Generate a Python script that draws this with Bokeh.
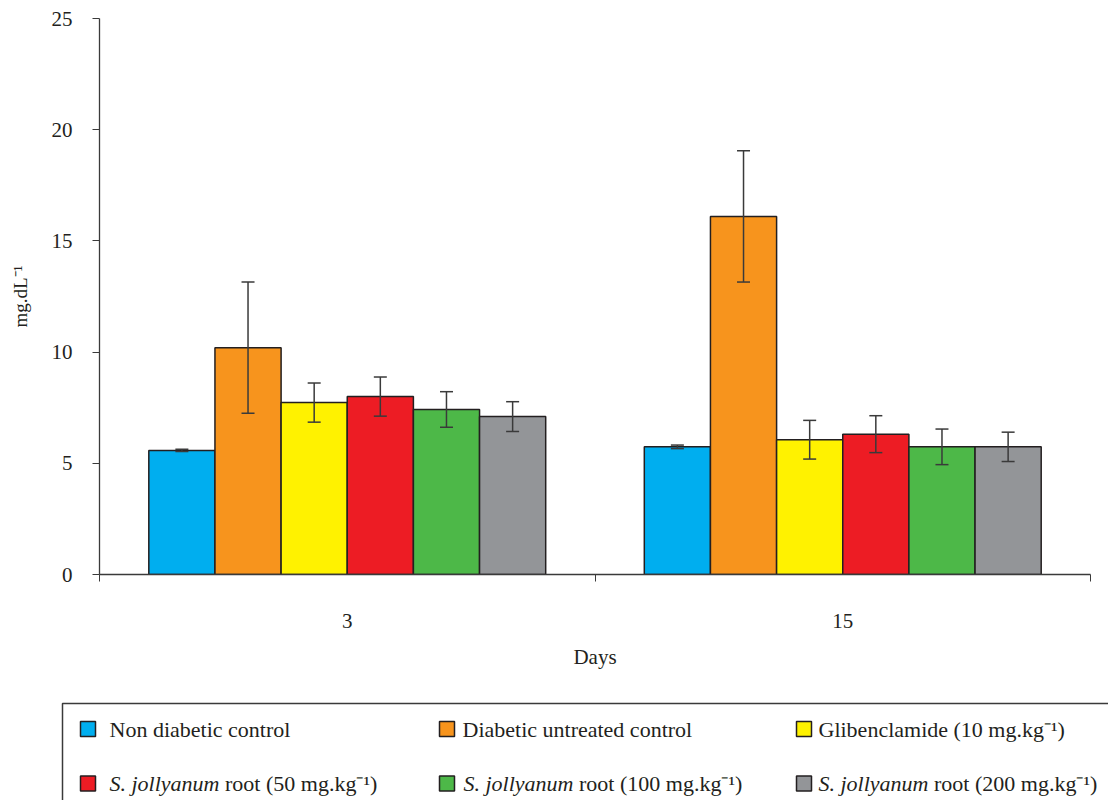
from bokeh.plotting import figure
from bokeh.models import (ColumnDataSource, Range1d, FixedTicker, LinearAxis,
                          Whisker, TeeHead)
from bokeh.transform import dodge
from bokeh.core.properties import value
from bokeh.embed import file_html
from bokeh.resources import INLINE

# ---- data ----
days = ["3", "15"]
groups = ["Non diabetic control", "Diabetic untreated control", "Glibenclamide (10 mg.kg\u207b\u00b9)",
          "S. jollyanum root (50 mg.kg\u207b\u00b9)", "S. jollyanum root (100 mg.kg\u207b\u00b9)",
          "S. jollyanum root (200 mg.kg\u207b\u00b9)"]
non_diabetic = [5.58, 5.74]
diabetic_untreated = [10.2, 16.1]
glibenclamide = [7.73, 6.06]
sj_50 = [8.0, 6.31]
sj_100 = [7.42, 5.74]
sj_200 = [7.1, 5.74]
err_non_diabetic = [0.05, 0.08]
err_diabetic_untreated = [2.95, 2.95]
err_glibenclamide = [0.88, 0.87]
err_sj_50 = [0.88, 0.83]
err_sj_100 = [0.8, 0.8]
err_sj_200 = [0.67, 0.66]
colors = ["#00AEEF", "#F7941D", "#FFF200", "#ED1C24", "#4DB848", "#939598"]
y_ticks = [0, 5, 10, 15, 20, 25]

means = [non_diabetic, diabetic_untreated, glibenclamide, sj_50, sj_100, sj_200]
errs = [err_non_diabetic, err_diabetic_untreated, err_glibenclamide, err_sj_50, err_sj_100, err_sj_200]

FONT = value("Liberation Serif")
AX = "#3a3a3a"
TXT = "#231f20"

n = len(days)
centers = [k + 0.5 for k in range(n)]

W = 1108
p = figure(width=W, height=696, x_range=Range1d(0, n), y_range=Range1d(0, 25),
           x_axis_location=None, output_backend="svg", toolbar_location=None,
           min_border_left=99, min_border_right=W - 1090, min_border_top=18, min_border_bottom=122)
p.outline_line_color = None
p.xgrid.visible = False
p.ygrid.visible = False

bw = 0.1335
for i, (m, e, c) in enumerate(zip(means, errs, colors)):
    off = (i - 2.5) * bw
    src = ColumnDataSource(dict(pos=centers, mean=m,
                                upper=[a + b for a, b in zip(m, e)],
                                lower=[a - b for a, b in zip(m, e)]))
    p.vbar(x=dodge("pos", off), top="mean", width=bw, source=src,
           fill_color=c, line_color=TXT, line_width=1.5)
    w = Whisker(source=src, base=dodge("pos", off), upper="upper", lower="lower",
                line_color=AX, line_width=1.5, level="overlay",
                upper_head=TeeHead(size=13, line_color=AX, line_width=1.5),
                lower_head=TeeHead(size=13, line_color=AX, line_width=1.5))
    p.add_layout(w)

# y axis
ya = p.yaxis[0]
ya.ticker = FixedTicker(ticks=y_ticks)
ya.major_tick_in = 0
ya.major_tick_out = 7
ya.minor_tick_line_color = None
ya.axis_line_color = AX
ya.major_tick_line_color = AX
ya.axis_line_width = 1.3
ya.major_label_text_font = "Liberation Serif"
ya.major_label_text_font_size = "21px"
ya.major_label_text_color = TXT
ya.major_label_standoff = 20
ya.axis_label = "mg.dL\u207b\u00b9"
ya.axis_label_text_font = "Liberation Serif"
ya.axis_label_text_font_style = "normal"
ya.axis_label_text_font_size = "19px"
ya.axis_label_text_color = TXT
ya.axis_label_standoff = 18

# x axis: edge ticks between categories
edges = list(range(n + 1))
ea = LinearAxis(ticker=FixedTicker(ticks=edges),
                major_label_overrides={k: "" for k in edges}, major_label_text_font_size="1px",
                major_tick_in=0, major_tick_out=7, minor_tick_line_color=None,
                axis_line_color=AX, major_tick_line_color=AX, axis_line_width=1.3,
                major_label_standoff=0)
p.add_layout(ea, "below")
# category labels
ca = LinearAxis(ticker=FixedTicker(ticks=centers),
                major_label_overrides={c: d for c, d in zip(centers, days)},
                axis_line_color=None, major_tick_line_color=None, major_tick_out=0,
                major_tick_in=0, minor_tick_line_color=None,
                major_label_text_font="Liberation Serif", major_label_text_font_size="21px",
                major_label_text_color=TXT, major_label_standoff=32,
                axis_label="Days", axis_label_text_font="Liberation Serif",
                axis_label_text_font_style="normal", axis_label_text_font_size="21px",
                axis_label_text_color=TXT, axis_label_standoff=14)
p.add_layout(ca, "below")

# ---- legend panel (separate root, pixel coordinates) ----
lg = figure(width=W, height=104, x_range=Range1d(0, W), y_range=Range1d(104, 0),
            x_axis_location=None, y_axis_location=None, output_backend="svg",
            toolbar_location=None, min_border=0)
lg.outline_line_color = None
lg.xgrid.visible = False
lg.ygrid.visible = False
lg.quad(left=[62], right=[1300], top=[7], bottom=[300], fill_color=None, line_color=AX, line_width=1.5)

sw_x = [87.5, 446.5, 803.5, 87.5, 446.5, 803.5]
txt_x = [109, 462, 818, 109, 463, 818]
row_y = [32.5, 32.5, 32.5, 87, 87, 87]
lg.rect(x=sw_x, y=row_y, width=15, height=15, fill_color=colors, line_color=TXT, line_width=1.5)

FS = 22
ital, rest, rest_x = [], [], []
for g, tx in zip(groups, txt_x):
    if g.startswith("S. jollyanum"):
        ital.append("S. jollyanum")
        rest.append(g[len("S. jollyanum"):].strip())
        rest_x.append(tx + 5.25 * FS)
    else:
        ital.append("")
        rest.append(g)
        rest_x.append(tx)
lg.text(x=txt_x, y=row_y, text=ital, text_font=FONT, text_font_style="italic",
        text_font_size=f"{FS}px", text_baseline="middle", text_color=TXT)
lg.text(x=rest_x, y=row_y, text=rest, text_font=FONT,
        text_font_size=f"{FS}px", text_baseline="middle", text_color=TXT)

open("out.html", "w").write(file_html([p, lg], INLINE))
